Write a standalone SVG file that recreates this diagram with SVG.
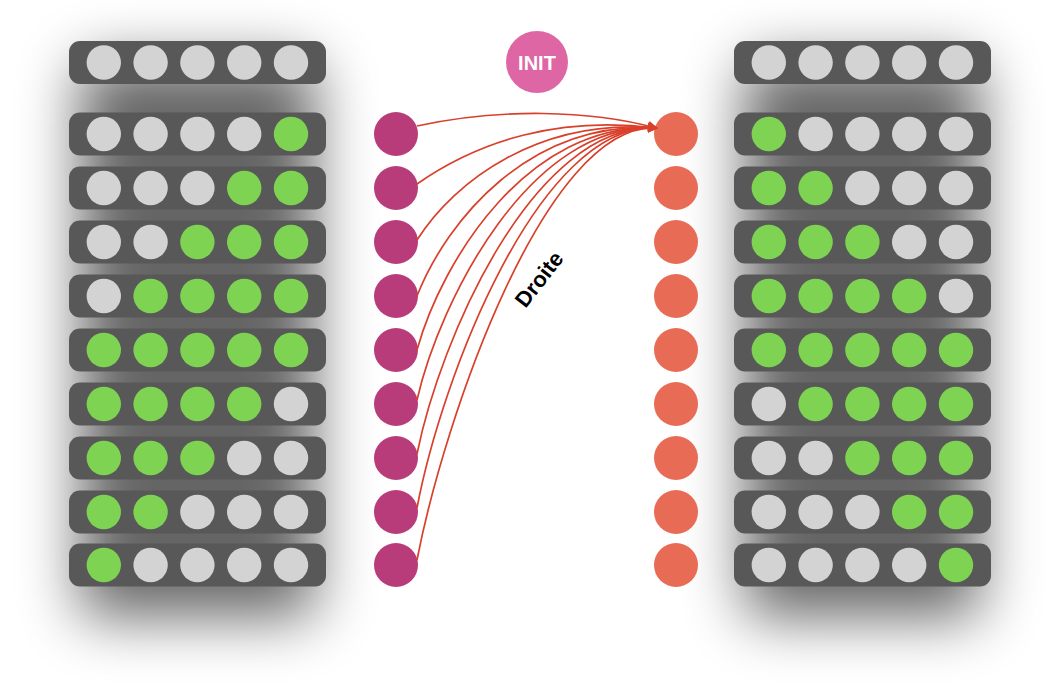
<svg xmlns="http://www.w3.org/2000/svg" width="1060" height="684" viewBox="0 0 1060 684">
<defs>
<filter id="sh" x="-60%" y="-30%" width="220%" height="160%"><feGaussianBlur stdDeviation="30"/></filter>
<marker id="arr" markerWidth="10" markerHeight="10" refX="8" refY="5" orient="auto" markerUnits="userSpaceOnUse"><path d="M0,0 L10,5 L0,10 z" fill="#d9402b"/></marker>
<style>
.row{fill:#585858}
.g{fill:#d3d3d3}
.v{fill:#7ed452}
.m{fill:#b83b7a}
.o{fill:#e86b55}
.c{fill:none;stroke:#d9402b;stroke-width:1.7}
.lbl{font-family:"Liberation Sans",Arial,sans-serif;font-weight:bold}
</style>
</defs>
<rect width="1060" height="684" fill="#ffffff"/>
<g id="shadows">
<rect x="80" y="62" width="235" height="555" rx="12" fill="#000" opacity="0.6" filter="url(#sh)"/>
<rect x="745" y="62" width="235" height="555" rx="12" fill="#000" opacity="0.6" filter="url(#sh)"/>
</g>
<g id="left-panel">
<g id="L0"><rect class="row" x="69" y="41" width="257" height="43" rx="11"/><circle class="g" cx="103.8" cy="62.5" r="17.2"/><circle class="g" cx="150.6" cy="62.5" r="17.2"/><circle class="g" cx="197.4" cy="62.5" r="17.2"/><circle class="g" cx="244.2" cy="62.5" r="17.2"/><circle class="g" cx="291" cy="62.5" r="17.2"/></g>
<g id="L1"><rect class="row" x="69" y="112.5" width="257" height="43" rx="11"/><circle class="g" cx="103.8" cy="134" r="17.2"/><circle class="g" cx="150.6" cy="134" r="17.2"/><circle class="g" cx="197.4" cy="134" r="17.2"/><circle class="g" cx="244.2" cy="134" r="17.2"/><circle class="v" cx="291" cy="134" r="17.2"/></g>
<g id="L2"><rect class="row" x="69" y="166.5" width="257" height="43" rx="11"/><circle class="g" cx="103.8" cy="188" r="17.2"/><circle class="g" cx="150.6" cy="188" r="17.2"/><circle class="g" cx="197.4" cy="188" r="17.2"/><circle class="v" cx="244.2" cy="188" r="17.2"/><circle class="v" cx="291" cy="188" r="17.2"/></g>
<g id="L3"><rect class="row" x="69" y="220.5" width="257" height="43" rx="11"/><circle class="g" cx="103.8" cy="242" r="17.2"/><circle class="g" cx="150.6" cy="242" r="17.2"/><circle class="v" cx="197.4" cy="242" r="17.2"/><circle class="v" cx="244.2" cy="242" r="17.2"/><circle class="v" cx="291" cy="242" r="17.2"/></g>
<g id="L4"><rect class="row" x="69" y="274.5" width="257" height="43" rx="11"/><circle class="g" cx="103.8" cy="296" r="17.2"/><circle class="v" cx="150.6" cy="296" r="17.2"/><circle class="v" cx="197.4" cy="296" r="17.2"/><circle class="v" cx="244.2" cy="296" r="17.2"/><circle class="v" cx="291" cy="296" r="17.2"/></g>
<g id="L5"><rect class="row" x="69" y="328.5" width="257" height="43" rx="11"/><circle class="v" cx="103.8" cy="350" r="17.2"/><circle class="v" cx="150.6" cy="350" r="17.2"/><circle class="v" cx="197.4" cy="350" r="17.2"/><circle class="v" cx="244.2" cy="350" r="17.2"/><circle class="v" cx="291" cy="350" r="17.2"/></g>
<g id="L6"><rect class="row" x="69" y="382.5" width="257" height="43" rx="11"/><circle class="v" cx="103.8" cy="404" r="17.2"/><circle class="v" cx="150.6" cy="404" r="17.2"/><circle class="v" cx="197.4" cy="404" r="17.2"/><circle class="v" cx="244.2" cy="404" r="17.2"/><circle class="g" cx="291" cy="404" r="17.2"/></g>
<g id="L7"><rect class="row" x="69" y="436.5" width="257" height="43" rx="11"/><circle class="v" cx="103.8" cy="458" r="17.2"/><circle class="v" cx="150.6" cy="458" r="17.2"/><circle class="v" cx="197.4" cy="458" r="17.2"/><circle class="g" cx="244.2" cy="458" r="17.2"/><circle class="g" cx="291" cy="458" r="17.2"/></g>
<g id="L8"><rect class="row" x="69" y="490.5" width="257" height="43" rx="11"/><circle class="v" cx="103.8" cy="512" r="17.2"/><circle class="v" cx="150.6" cy="512" r="17.2"/><circle class="g" cx="197.4" cy="512" r="17.2"/><circle class="g" cx="244.2" cy="512" r="17.2"/><circle class="g" cx="291" cy="512" r="17.2"/></g>
<g id="L9"><rect class="row" x="69" y="543.5" width="257" height="43" rx="11"/><circle class="v" cx="103.8" cy="565" r="17.2"/><circle class="g" cx="150.6" cy="565" r="17.2"/><circle class="g" cx="197.4" cy="565" r="17.2"/><circle class="g" cx="244.2" cy="565" r="17.2"/><circle class="g" cx="291" cy="565" r="17.2"/></g>
</g>
<g id="right-panel">
<g id="R0"><rect class="row" x="734" y="41" width="257" height="43" rx="11"/><circle class="g" cx="768.8" cy="62.5" r="17.2"/><circle class="g" cx="815.6" cy="62.5" r="17.2"/><circle class="g" cx="862.4" cy="62.5" r="17.2"/><circle class="g" cx="909.2" cy="62.5" r="17.2"/><circle class="g" cx="956" cy="62.5" r="17.2"/></g>
<g id="R1"><rect class="row" x="734" y="112.5" width="257" height="43" rx="11"/><circle class="v" cx="768.8" cy="134" r="17.2"/><circle class="g" cx="815.6" cy="134" r="17.2"/><circle class="g" cx="862.4" cy="134" r="17.2"/><circle class="g" cx="909.2" cy="134" r="17.2"/><circle class="g" cx="956" cy="134" r="17.2"/></g>
<g id="R2"><rect class="row" x="734" y="166.5" width="257" height="43" rx="11"/><circle class="v" cx="768.8" cy="188" r="17.2"/><circle class="v" cx="815.6" cy="188" r="17.2"/><circle class="g" cx="862.4" cy="188" r="17.2"/><circle class="g" cx="909.2" cy="188" r="17.2"/><circle class="g" cx="956" cy="188" r="17.2"/></g>
<g id="R3"><rect class="row" x="734" y="220.5" width="257" height="43" rx="11"/><circle class="v" cx="768.8" cy="242" r="17.2"/><circle class="v" cx="815.6" cy="242" r="17.2"/><circle class="v" cx="862.4" cy="242" r="17.2"/><circle class="g" cx="909.2" cy="242" r="17.2"/><circle class="g" cx="956" cy="242" r="17.2"/></g>
<g id="R4"><rect class="row" x="734" y="274.5" width="257" height="43" rx="11"/><circle class="v" cx="768.8" cy="296" r="17.2"/><circle class="v" cx="815.6" cy="296" r="17.2"/><circle class="v" cx="862.4" cy="296" r="17.2"/><circle class="v" cx="909.2" cy="296" r="17.2"/><circle class="g" cx="956" cy="296" r="17.2"/></g>
<g id="R5"><rect class="row" x="734" y="328.5" width="257" height="43" rx="11"/><circle class="v" cx="768.8" cy="350" r="17.2"/><circle class="v" cx="815.6" cy="350" r="17.2"/><circle class="v" cx="862.4" cy="350" r="17.2"/><circle class="v" cx="909.2" cy="350" r="17.2"/><circle class="v" cx="956" cy="350" r="17.2"/></g>
<g id="R6"><rect class="row" x="734" y="382.5" width="257" height="43" rx="11"/><circle class="g" cx="768.8" cy="404" r="17.2"/><circle class="v" cx="815.6" cy="404" r="17.2"/><circle class="v" cx="862.4" cy="404" r="17.2"/><circle class="v" cx="909.2" cy="404" r="17.2"/><circle class="v" cx="956" cy="404" r="17.2"/></g>
<g id="R7"><rect class="row" x="734" y="436.5" width="257" height="43" rx="11"/><circle class="g" cx="768.8" cy="458" r="17.2"/><circle class="g" cx="815.6" cy="458" r="17.2"/><circle class="v" cx="862.4" cy="458" r="17.2"/><circle class="v" cx="909.2" cy="458" r="17.2"/><circle class="v" cx="956" cy="458" r="17.2"/></g>
<g id="R8"><rect class="row" x="734" y="490.5" width="257" height="43" rx="11"/><circle class="g" cx="768.8" cy="512" r="17.2"/><circle class="g" cx="815.6" cy="512" r="17.2"/><circle class="g" cx="862.4" cy="512" r="17.2"/><circle class="v" cx="909.2" cy="512" r="17.2"/><circle class="v" cx="956" cy="512" r="17.2"/></g>
<g id="R9"><rect class="row" x="734" y="543.5" width="257" height="43" rx="11"/><circle class="g" cx="768.8" cy="565" r="17.2"/><circle class="g" cx="815.6" cy="565" r="17.2"/><circle class="g" cx="862.4" cy="565" r="17.2"/><circle class="g" cx="909.2" cy="565" r="17.2"/><circle class="v" cx="956" cy="565" r="17.2"/></g>
</g>
<g id="init"><circle cx="537" cy="62" r="31" fill="#df66a4"/><text class="lbl" x="537" y="69.5" text-anchor="middle" font-size="20" fill="#ffffff">INIT</text></g>
<g id="magenta-nodes">
<circle id="m1" class="m" cx="396" cy="134" r="22"/><circle id="m2" class="m" cx="396" cy="188" r="22"/><circle id="m3" class="m" cx="396" cy="242" r="22"/><circle id="m4" class="m" cx="396" cy="296" r="22"/><circle id="m5" class="m" cx="396" cy="350" r="22"/><circle id="m6" class="m" cx="396" cy="404" r="22"/><circle id="m7" class="m" cx="396" cy="458" r="22"/><circle id="m8" class="m" cx="396" cy="512" r="22"/><circle id="m9" class="m" cx="396" cy="565" r="22"/>
</g>
<g id="orange-nodes">
<circle id="o1" class="o" cx="676" cy="134" r="22"/><circle id="o2" class="o" cx="676" cy="188" r="22"/><circle id="o3" class="o" cx="676" cy="242" r="22"/><circle id="o4" class="o" cx="676" cy="296" r="22"/><circle id="o5" class="o" cx="676" cy="350" r="22"/><circle id="o6" class="o" cx="676" cy="404" r="22"/><circle id="o7" class="o" cx="676" cy="458" r="22"/><circle id="o8" class="o" cx="676" cy="512" r="22"/><circle id="o9" class="o" cx="676" cy="565" r="22"/>
</g>
<g id="connectors">
<path class="c" d="M417,126 C500,108 590,110 656,128" marker-end="url(#arr)"/>
<path class="c" d="M417,184 C480,140 560,116 656,128" marker-end="url(#arr)"/>
<path class="c" d="M417,240 C455,180 540,118 656,128" marker-end="url(#arr)"/>
<path class="c" d="M417,296 C447,220 530,120 656,128" marker-end="url(#arr)"/>
<path class="c" d="M417,350 C442,260 528,122 656,128" marker-end="url(#arr)"/>
<path class="c" d="M417,400 C440,300 530,122 656,128" marker-end="url(#arr)"/>
<path class="c" d="M417,454 C440,340 533,123 656,128" marker-end="url(#arr)"/>
<path class="c" d="M417,508 C441,380 538,123 656,128" marker-end="url(#arr)"/>
<path class="c" d="M417,560 C444,420 545,123 656,128" marker-end="url(#arr)"/>
</g>
<g id="label"><text class="lbl" x="0" y="0" font-size="22" fill="#000" text-anchor="middle" transform="translate(545,284) rotate(-52)">Droite</text></g>
</svg>
